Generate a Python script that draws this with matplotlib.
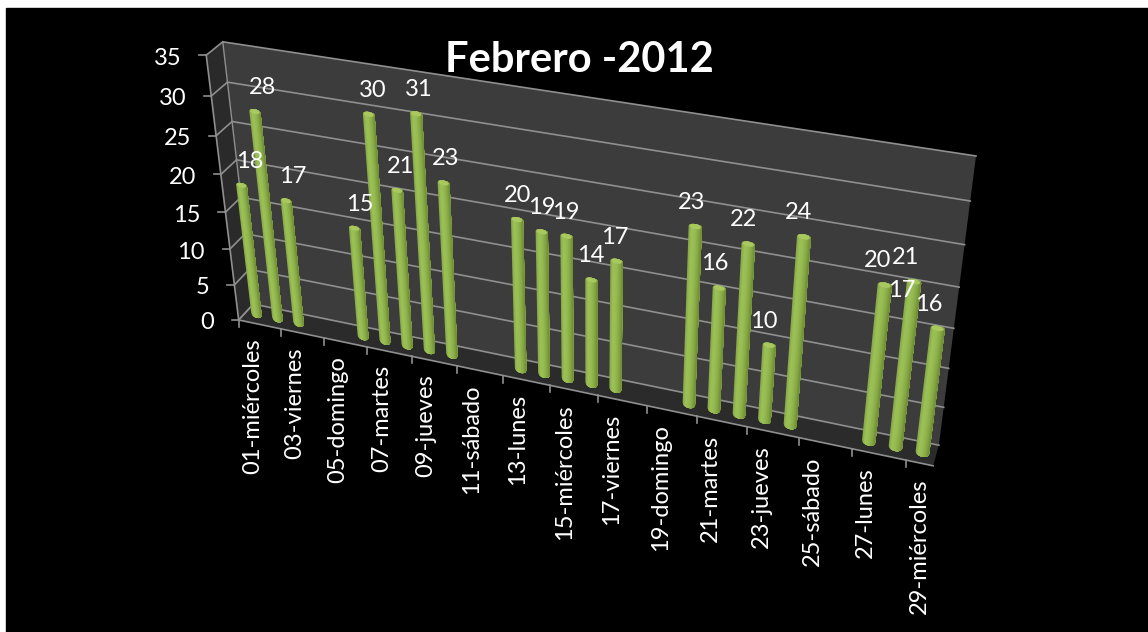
import matplotlib
matplotlib.use('Agg')
import matplotlib.pyplot as plt
import numpy as np
from matplotlib.colors import to_rgb
from matplotlib.transforms import Transform

plt.rcParams['font.family'] = ['Lato', 'DejaVu Sans']

# data
days = [1, 2, 3, 6, 7, 8, 9, 10, 13, 14, 15, 16, 17, 20, 21, 22, 23, 24, 27, 28, 29]
values = [18, 28, 17, 15, 30, 21, 31, 23, 20, 19, 19, 14, 17, 23, 16, 22, 10, 24, 20, 21, 16]
# label with no visible bar of its own, hidden in front of day 28
extra_days = [28]
extra_values = [17]
tick_days = [1, 3, 5, 7, 9, 11, 13, 15, 17, 19, 21, 23, 25, 27, 29]
tick_labels = ['01-miércoles', '03-viernes', '05-domingo', '07-martes', '09-jueves', '11-sábado',
               '13-lunes', '15-miércoles', '17-viernes', '19-domingo', '21-martes', '23-jueves',
               '25-sábado', '27-lunes', '29-miércoles']
value_ticks = [0, 5, 10, 15, 20, 25, 30, 35]

x0, x1, vmax = 0.5, 29.5, 35

# camera fit: (day, value, depth) -> pixel, depth 0 is the front edge, 1 the back wall
fit_world = [(x0, vmax, 1), (x1, vmax, 1), (x1, 0, 1), (x0, 0, 1), (x0, 0, 0), (x1, 0, 0), (x0, vmax, 0)]
fit_pixel = [(223, 42), (976, 156), (939, 445), (253, 304), (239, 320), (933, 466), (206, 55)]
A, b = [], []
for (d, v, z), (px, py) in zip(fit_world, fit_pixel):
    A.append([d, v, z, 1, 0, 0, 0, 0, -px * d, -px * v, -px * z])
    A.append([0, 0, 0, 0, d, v, z, 1, -py * d, -py * v, -py * z])
    b += [px, py]
sol = np.linalg.lstsq(np.array(A, float), np.array(b, float), rcond=None)[0]
P = np.append(sol, 1).reshape(3, 4)


class Plane(Transform):
    input_dims = 2
    output_dims = 2
    is_separable = False
    has_inverse = False

    def __init__(self, H):
        super().__init__()
        self.H = H

    def transform_non_affine(self, values):
        xy = np.asarray(values, float).reshape(-1, 2)
        q = self.H @ np.column_stack([xy, np.ones(len(xy))]).T
        return (q[:2] / q[2]).T


def wall(depth):
    # x = day, y = value, at a fixed depth
    return Plane(np.column_stack([P[:, 0], P[:, 1], P[:, 2] * depth + P[:, 3]]))


back_p = wall(1)
mid_p = wall(0.5)
front_p = wall(0)
floor_p = Plane(np.column_stack([P[:, 0], P[:, 2], P[:, 3]]))  # x = day, y = depth
side_p = Plane(np.column_stack([P[:, 2], P[:, 1], P[:, 0] * x0 + P[:, 3]]))  # x = depth, y = value

fig = plt.figure(figsize=(11.48, 6.32), dpi=100, facecolor='white')
ax = fig.add_axes([0, 0, 1, 1])
ax.set_xlim(0, 1148)
ax.set_ylim(632, 0)
ax.set_autoscale_on(False)
ax.axis('off')
ax.add_patch(plt.Rectangle((6, 8), 1142, 624, color='black', zorder=0))

back = back_p + ax.transData
mid = mid_p + ax.transData
front = front_p + ax.transData
floor_t = floor_p + ax.transData
side_t = side_p + ax.transData

# walls and floor
ax.fill([x0, x1, x1, x0], [0, 0, vmax, vmax], color='#3c3c3c', lw=0, transform=back, zorder=1)
ax.fill([x0, x1, x1, x0], [0, 0, 1, 1], color='#2b2b2b', lw=0, transform=floor_t, zorder=1)
ax.fill([0, 1, 1, 0], [0, 0, vmax, vmax], color='#2a2a2a', lw=0, transform=side_t, zorder=1)

grid_c = '#8f8f8f'
for v in value_ticks:
    ax.plot([x0, x1], [v, v], color=grid_c, lw=1.2, transform=back, zorder=2)
    ax.plot([0, 1], [v, v], color=grid_c, lw=1.2, transform=side_t, zorder=2)
    px, py = front_p.transform((x0, v))
    ax.plot([px - 7, px], [py, py], color=grid_c, lw=1.2, zorder=2)
    ax.text(px - 25, py + 3, str(v), color='white', fontsize=17, ha='right', va='center', zorder=6)
ax.plot([x0, x0], [0, vmax], color=grid_c, lw=1.2, transform=front, zorder=2)
ax.plot([x0, x0], [0, vmax], color=grid_c, lw=1.0, transform=back, zorder=2)
ax.plot([x0, x1], [0, 0], color=grid_c, lw=1.2, transform=front, zorder=2)
ax.plot([x0, x0], [0, 1], color=grid_c, lw=1.0, transform=floor_t, zorder=2)

# category ticks every two days
for d in np.arange(x0, x1 + 0.1, 2):
    px, py = front_p.transform((d, 0))
    ax.plot([px, px], [py, py + 7], color=grid_c, lw=1.2, zorder=2)
for d, lab in zip(tick_days, tick_labels):
    px, py = front_p.transform((d, 0))
    shift = np.interp(d, [1, 29], [4, 0])
    ax.text(px + shift, py + 16, lab, color='white', fontsize=17, rotation=90, ha='center', va='top', zorder=6)

# bars as shaded tubes, each stripe runs on to the right edge so no seams show
hw = 0.25
stops_u = [-1, -0.5, 0, 0.5, 1]
stops_c = np.array([to_rgb(c) for c in ['#86a648', '#9cc257', '#95bb51', '#86a845', '#6c8a33']])
n = 14
edges = np.linspace(-1, 1, n + 1)
for d, v in zip(days, values):
    for i in range(n):
        um = (edges[i] + edges[i + 1]) / 2
        col = [np.interp(um, stops_u, stops_c[:, k]) for k in range(3)]
        us = edges[i:]
        bot = -0.55 * np.sqrt(np.clip(1 - us ** 2, 0, 1))
        top = v - 0.15 + 0.3 * np.sqrt(np.clip(1 - us ** 2, 0, 1))
        ax.fill(np.r_[d + hw * us, d + hw * us[::-1]], np.r_[bot, top[::-1]],
                color=col, lw=0, transform=mid, zorder=3)
    t = np.linspace(0, 2 * np.pi, 30)
    ax.fill(d + hw * 0.85 * np.cos(t), v - 0.15 + 0.3 * np.sin(t), color='#a9c95f', lw=0, transform=mid, zorder=4)

# value labels
for d, v in zip(days + extra_days, values + extra_values):
    px, py = mid_p.transform((d, v))
    dx = np.interp(d, [1, 29], [8, -9])
    ax.text(px + dx, py - 23, str(v), color='white', fontsize=17, ha='center', va='center', zorder=7)

ax.text(579, 60, 'Febrero -2012', color='white', fontsize=30, fontweight='bold', ha='center', va='center', zorder=8)

fig.savefig('out.png', dpi=100, facecolor='white')
